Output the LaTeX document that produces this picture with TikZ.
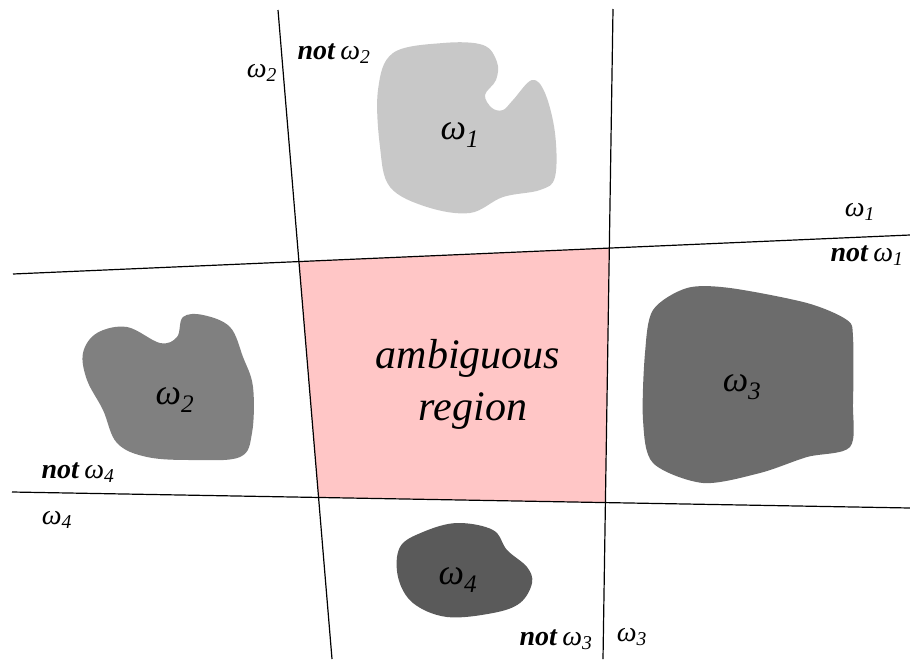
\documentclass[tikz,border=0pt]{standalone}
\usepackage{fontspec}
\setmainfont{Liberation Serif}
\newcommand\wsym[1]{\textit{ω\textsubscript{#1}}}
\newcommand\notw[1]{\textbf{\textit{not}}\,\wsym{#1}}
\begin{document}
\begin{tikzpicture}[x=1pt,y=-1pt,
  sep/.style={line width=1.2pt,black},
  small/.style={font=\fontsize{28}{32}\selectfont,inner sep=0pt,anchor=base},
  blobtxt/.style={font=\fontsize{36}{40}\selectfont,inner sep=0pt},
  big/.style={font=\fontsize{42}{48}\selectfont\itshape,inner sep=0pt,anchor=base}]
\useasboundingbox (0,0) rectangle (910,659);
% separating lines
\coordinate (v1t) at (278,10);
\coordinate (v1b) at (332,659);
\coordinate (v2t) at (613,9);
\coordinate (v2b) at (603,659);
\coordinate (h1l) at (13,274);
\coordinate (h1r) at (910,235);
\coordinate (h2l) at (12,492);
\coordinate (h2r) at (910,508);
\coordinate (q1) at (intersection of v1t--v1b and h1l--h1r);
\coordinate (q2) at (intersection of v2t--v2b and h1l--h1r);
\coordinate (q3) at (intersection of v2t--v2b and h2l--h2r);
\coordinate (q4) at (intersection of v1t--v1b and h2l--h2r);
\fill[fill={rgb,255:red,255;green,198;blue,198}] (q1) -- (q2) -- (q3) -- (q4) -- cycle;
% blobs
\fill[fill={rgb,255:red,200;green,200;blue,200}] plot[smooth cycle,tension=0.6] coordinates {
 (393,53) (443,43) (483,45) (497,62) (496,80) (485,95) (492,108) (503,110) (513,100)
 (532,80) (545,93) (555,133) (555,177) (540,190) (503,197) (470,213) (427,207)
 (390,187) (380,147) (378,90)};
\fill[fill={rgb,255:red,128;green,128;blue,128}] plot[smooth cycle,tension=0.6] coordinates {
 (83,353) (97,333) (127,327) (160,343) (177,337) (183,317) (203,315) (230,327)
 (243,357) (253,387) (252,433) (240,457) (193,460) (147,457) (117,443) (103,410) (87,380)};
\fill[fill={rgb,255:red,108;green,108;blue,108}] plot[smooth cycle,tension=0.5] coordinates {
 (653,310) (687,288) (730,288) (807,303) (847,320) (853,337) (853,403) (850,447)
 (807,457) (760,473) (703,483) (653,463) (643,420) (645,353)};
\fill[fill={rgb,255:red,90;green,90;blue,90}] plot[smooth cycle,tension=0.6] coordinates {
 (400,547) (423,532) (457,523) (493,530) (507,550) (527,567) (532,583) (520,603)
 (493,613) (447,617) (413,603) (398,577)};
\draw[sep] (v1t) -- (v1b);
\draw[sep] (v2t) -- (v2b);
\draw[sep] (h1l) -- (h1r);
\draw[sep] (h2l) -- (h2r);
% labels
\node[small] (l1) at (262,77) {\wsym{2}};
\node[small] (l2) at (334,59) {\notw{2}};
\node[small] (l3) at (860,216) {\wsym{1}};
\node[small] (l4) at (867,261) {\notw{1}};
\node[small] (l5) at (78,478) {\notw{4}};
\node[small] (l6) at (57,524) {\wsym{4}};
\node[small] (l7) at (556,645) {\notw{3}};
\node[small] (l8) at (632,641) {\wsym{3}};
\node[blobtxt] (b1) at (460,135) {\wsym{1}};
\node[blobtxt] (b2) at (175,400) {\wsym{2}};
\node[blobtxt] (b3) at (742,387) {\wsym{3}};
\node[blobtxt] (b4) at (458,580) {\wsym{4}};
\node[big] (a1) at (468,368) {ambiguous};
\node[big] (a2) at (473,420) {region};
\end{tikzpicture}
\end{document}
